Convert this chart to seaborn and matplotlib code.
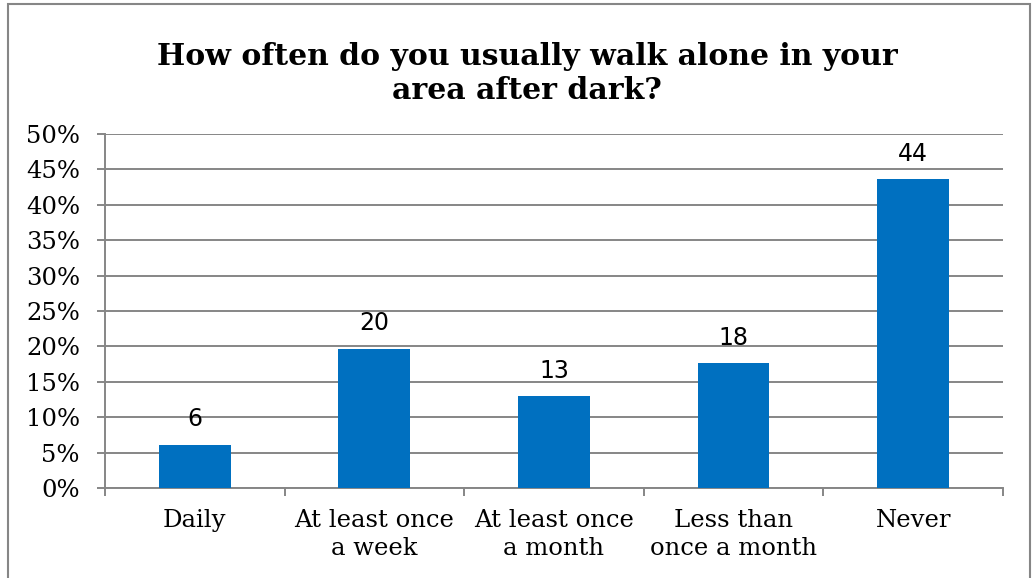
import matplotlib
matplotlib.use("Agg")
import matplotlib.pyplot as plt
from matplotlib.patches import Rectangle
import seaborn as sns
import pandas as pd

categories = ["Daily", "At least once\na week", "At least once\na month",
              "Less than\nonce a month", "Never"]
percent = [6.1, 19.7, 13.0, 17.6, 43.6]
y_ticks = [0, 5, 10, 15, 20, 25, 30, 35, 40, 45, 50]

df = pd.DataFrame({"category": categories, "percent": percent})

sns.set_theme(style="white")
plt.rcParams["font.family"] = ["DejaVu Serif"]

grey = "#868686"
fig = plt.figure(figsize=(10.34, 5.78), dpi=100)
ax = fig.add_axes([0.1015, 0.1557, 0.8685, 0.6125])

sns.barplot(data=df, x="category", y="percent", color="#0070C0",
            saturation=1, width=0.40, linewidth=0, ax=ax, zorder=3)

ax.set_ylim(0, 50)
ax.set_xlim(-0.5, len(categories) - 0.5)
ax.set_yticks(y_ticks)
ax.set_yticklabels([f"{t}%" for t in y_ticks], fontsize=17.5, color="black")
ax.set_xticks(range(len(categories)))
ax.set_xticklabels(categories, fontsize=17.5, color="black", linespacing=1.3)
ax.set_xlabel("")
ax.set_ylabel("")

ax.yaxis.grid(True, color=grey, linewidth=1.4, zorder=0)
ax.xaxis.grid(False)
for side in ["top", "right"]:
    ax.spines[side].set_visible(False)
for side in ["left", "bottom"]:
    ax.spines[side].set_color(grey)
    ax.spines[side].set_linewidth(1.4)

# y ticks outward on the left; x ticks sit at category boundaries
ax.tick_params(axis="y", which="major", left=True, length=6, width=1.4,
               color=grey, pad=12)
ax.tick_params(axis="x", which="major", bottom=False, pad=9)
ax.set_xticks([i - 0.5 for i in range(len(categories) + 1)], minor=True)
ax.tick_params(axis="x", which="minor", bottom=True, length=6, width=1.4,
               color=grey)

for i, v in enumerate(percent):
    ax.text(i, v + 1.9, f"{v:.0f}", ha="center", va="bottom",
            fontsize=17, family="DejaVu Sans", color="black")

fig.text(0.51, 0.873, "How often do you usually walk alone in your\narea after dark?",
         ha="center", va="center", fontsize=21.5, fontweight="bold",
         linespacing=1.25, color="black")

# chart frame
fig.add_artist(Rectangle((8 / 1034, -0.01), 1022 / 1034, 1 - 4 / 578 + 0.01,
                         transform=fig.transFigure, fill=False,
                         edgecolor=grey, linewidth=1.5))

fig.savefig("out.png", dpi=100)
